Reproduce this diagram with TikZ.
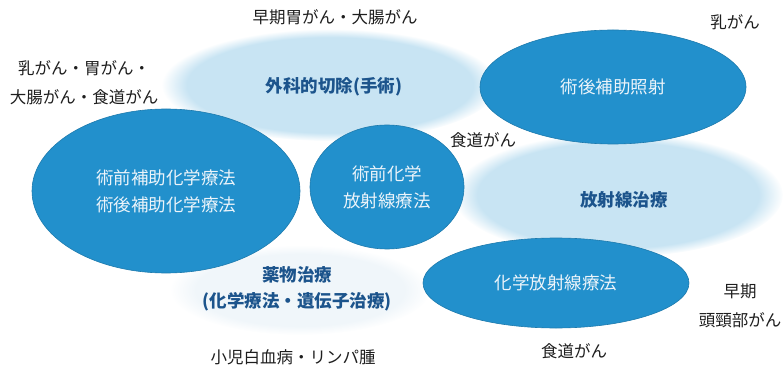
\documentclass[tikz,border=0pt]{standalone}
\usepackage{fontspec}
\newfontfamily\jp{Noto Sans CJK JP}
\usetikzlibrary{shapes.geometric,fadings}
\definecolor{blob}{RGB}{34,144,204}
\definecolor{cloud}{RGB}{200,228,243}
\definecolor{cloudlite}{RGB}{240,246,250}
\definecolor{deep}{RGB}{28,84,140}
\definecolor{ink}{RGB}{30,30,30}
\definecolor{intext}{RGB}{236,244,250}
\tikzset{
  blobshape/.style={ellipse,fill=blob,draw=blob!85!black,line width=0.6pt,inner sep=0pt,text=intext,align=center,font=\jp\fontsize{17.5}{27}\selectfont},
  cloudshape/.style={fill=cloud,path fading=circle with fuzzy edge 15 percent},
  plain/.style={text=ink,align=center,font=\jp\fontsize{16.5}{29}\selectfont},
  head/.style={text=deep,align=center,font=\jp\bfseries\fontsize{17.5}{26}\selectfont}
}
\begin{document}
\begin{tikzpicture}[x=1pt,y=-1pt]
\useasboundingbox (0,0) rectangle (783,371);
% soft clouds
\fill[cloudshape] (330,85) ellipse [x radius=168, y radius=56];
\fill[cloudshape] (618,195) ellipse [x radius=165, y radius=62];
\fill[cloudlite,path fading=circle with fuzzy edge 20 percent] (300,290) ellipse [x radius=130, y radius=45];
% solid ellipses
\node[blobshape,minimum width=268pt,minimum height=164pt] (chemo) at (166,191) {術前補助化学療法\\術後補助化学療法};
\node[blobshape,minimum width=154pt,minimum height=124pt] (prechemorad) at (387,187) {術前化学\\放射線療法};
\node[blobshape,minimum width=266pt,minimum height=114pt] (postrad) at (613,87) {術後補助照射};
\node[blobshape,minimum width=266pt,minimum height=90pt] (chemorad) at (556,283) {化学放射線療法};
% headings
\node[head] (surgery) at (334,87) {外科的切除(手術)};
\node[head] (radio) at (624,200) {放射線治療};
\node[head] (drug) at (297,289) {薬物治療\\(化学療法・遺伝子治療)};
% disease labels
\node[plain] (earlygastric) at (335,17) {早期胃がん・大腸がん};
\node[plain] (breastetc) at (84,83) {乳がん・胃がん・\\大腸がん・食道がん};
\node[plain] (breast) at (735,22) {乳がん};
\node[plain] (esoph1) at (483,140) {食道がん};
\node[plain] (headneck) at (740,306) {早期\\頭頸部がん};
\node[plain] (esoph2) at (574,351) {食道がん};
\node[plain] (leuk) at (293,357) {小児白血病・リンパ腫};
\end{tikzpicture}
\end{document}
